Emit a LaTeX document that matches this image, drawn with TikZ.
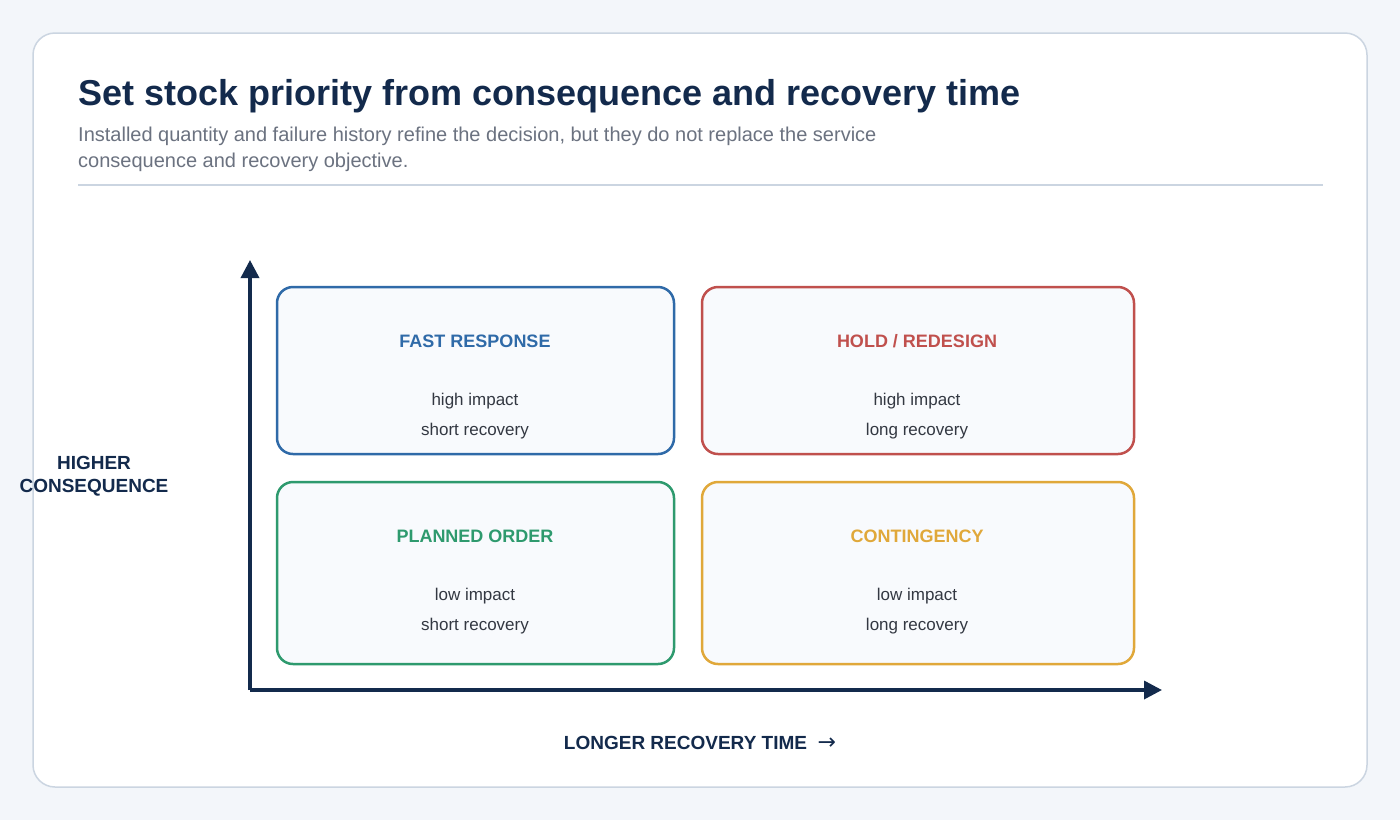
\documentclass[tikz,border=0pt]{standalone}
\usepackage{fontspec}
\setmainfont{Liberation Sans}
\newfontfamily\arrowfont{DejaVu Sans}
\usetikzlibrary{arrows.meta,positioning}
\definecolor{navy}{HTML}{132A4C}
\definecolor{pagebg}{HTML}{F3F6FA}
\definecolor{edge}{HTML}{CBD5E1}
\definecolor{subgray}{HTML}{6B7280}
\definecolor{cellbg}{HTML}{F8FAFD}
\definecolor{qblue}{HTML}{2F6AA8}
\definecolor{qred}{HTML}{C0504D}
\definecolor{qgreen}{HTML}{2E9A6E}
\definecolor{qgold}{HTML}{E0A83A}
\definecolor{body}{HTML}{333842}
\tikzset{
  cell/.style={draw=#1, fill=cellbg, line width=2.5pt, rounded corners=16pt},
  head/.style={font=\bfseries\fontsize{18}{21}\selectfont, text=#1},
  note/.style={font=\fontsize{17}{30}\selectfont, text=body, align=center},
  axis/.style={draw=navy, line width=3.5pt, -{Triangle[length=18pt,width=18pt]}}
}
\begin{document}
\begin{tikzpicture}[x=1pt,y=-1pt]
\useasboundingbox (0,0) rectangle (1400,820);
\fill[pagebg] (0,0) rectangle (1400,820);
\draw[edge, fill=white, line width=1.5pt, rounded corners=22pt] (33,33) rectangle (1367,787);
\node[anchor=base west, text=navy, font=\bfseries\fontsize{36}{42}\selectfont, inner sep=0] (title) at (78,105) {Set stock priority from consequence and recovery time};
\node[anchor=north west, text=subgray, font=\fontsize{20}{26}\selectfont, align=left, inner sep=0] (subtitle) at (78,127) {Installed quantity and failure history refine the decision, but they do not replace the service\\consequence and recovery objective.};
\draw[edge, line width=1.5pt] (78,185) -- (1323,185);
% axes
\coordinate (origin) at (250,690);
\coordinate (ytip) at (250,260);
\coordinate (xtip) at (1162,690);
\draw[axis] (origin) -- (ytip);
\draw[axis] (origin) -- (xtip);
% quadrants
\draw[cell=qblue] (277,287) rectangle (674,454);
\draw[cell=qred] (702,287) rectangle (1134,454);
\draw[cell=qgreen] (277,482) rectangle (674,664);
\draw[cell=qgold] (702,482) rectangle (1134,664);
\node[head=qblue] (fastH) at (475,341) {FAST RESPONSE};
\node[note] (fastN) at (475,416) {high impact\\short recovery};
\node[head=qred] (holdH) at (917,341) {HOLD / REDESIGN};
\node[note] (holdN) at (917,416) {high impact\\long recovery};
\node[head=qgreen] (planH) at (475,536) {PLANNED ORDER};
\node[note] (planN) at (475,611) {low impact\\short recovery};
\node[head=qgold] (contH) at (917,536) {CONTINGENCY};
\node[note] (contN) at (917,611) {low impact\\long recovery};
% axis labels
\node[text=navy, font=\bfseries\fontsize{19}{23}\selectfont, align=center] (ylabel) at (94,476) {HIGHER\\CONSEQUENCE};
\node[text=navy, font=\bfseries\fontsize{19}{22}\selectfont] (xlabel) at (700,743) {LONGER RECOVERY TIME\ \ {\arrowfont\mdseries\fontsize{22}{22}\selectfont →}};
\end{tikzpicture}
\end{document}
